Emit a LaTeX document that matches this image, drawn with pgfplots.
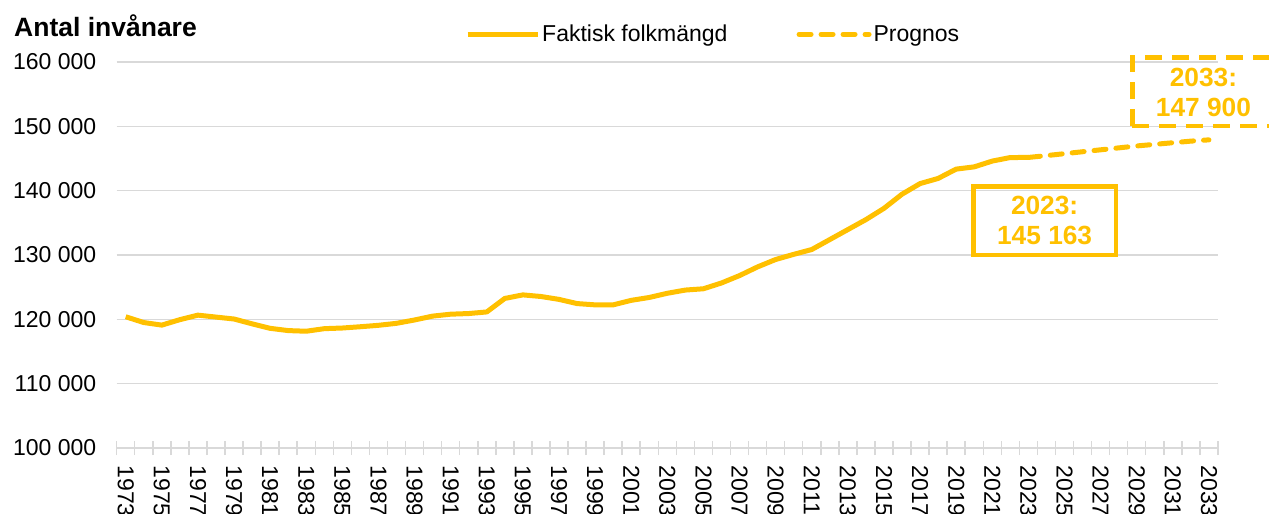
\documentclass[border=0pt]{standalone}
\usepackage{fontspec}
\setmainfont{Liberation Sans}
\usepackage{pgfplots}
\pgfplotsset{compat=1.18}
\definecolor{gold}{HTML}{FFC000}
\definecolor{gridgray}{HTML}{D9D9D9}

\begin{document}
\begin{tikzpicture}
\begin{axis}[
  at={(0pt,0pt)}, anchor=south west,
  scale only axis, width=1101.3pt, height=386pt,
  xmin=1972.5, xmax=2033.5, ymin=100000, ymax=160000,
  axis x line*=bottom, axis y line*=left,
  y axis line style={draw=none},
  x axis line style={draw=gridgray, line width=1.5pt, -},
  ytick={100000,110000,...,160000},
  yticklabels={100 000,110 000,120 000,130 000,140 000,150 000,160 000},
  xtick={1973,1975,...,2033},
  minor xtick={1972.5,1973.5,...,2033.5},
  major tick length=0pt, minor tick length=14pt, tick align=center,
  minor tick style={draw=gridgray, line width=1.5pt},
  ymajorgrids, grid style={draw=gridgray, line width=1.5pt},
  /pgf/number format/assume math mode=true,
  /pgf/number format/1000 sep={},
  scaled ticks=false,
  tick label style={font=\fontsize{23}{27}\selectfont, text=black},
  yticklabel style={xshift=-17pt},
  xticklabel style={rotate=-90, anchor=west, xshift=14pt},
  clip=false,
  legend columns=2,
  legend style={draw=none, fill=none, inner sep=0pt, at={(0.3163,1.0718)}, anchor=west,
    font=\fontsize{23}{27}\selectfont,
    /tikz/every even column/.append style={column sep=67pt}},
  legend image code/.code={\draw[#1] (0pt,0pt) -- (70pt,0pt);},
]
\addplot[gold, line width=5pt, line join=round] coordinates {
(1973,120400) (1974,119500) (1975,119100) (1976,119950) (1977,120650)
(1978,120350) (1979,120050) (1980,119300) (1981,118600) (1982,118250)
(1983,118150) (1984,118550) (1985,118650) (1986,118850) (1987,119070)
(1988,119380) (1989,119900) (1990,120500) (1991,120800) (1992,120900)
(1993,121150) (1994,123250) (1995,123800) (1996,123550) (1997,123100)
(1998,122450) (1999,122250) (2000,122250) (2001,122950) (2002,123400)
(2003,124050) (2004,124550) (2005,124750) (2006,125650) (2007,126800)
(2008,128150) (2009,129300) (2010,130100) (2011,130850) (2012,132400)
(2013,133950) (2014,135500) (2015,137250) (2016,139450) (2017,141100)
(2018,141900) (2019,143350) (2020,143700) (2021,144600) (2022,145150)
(2023,145163)
};
\addlegendentry{Faktisk folkmängd}
\addplot[gold, line width=5pt, line cap=round, dash pattern=on 12pt off 10pt] coordinates {
(2023,145163) (2024,145450) (2025,145750) (2026,146050) (2027,146350)
(2028,146650) (2029,146950) (2030,147200) (2031,147450) (2032,147700)
(2033,147900)
};
\addlegendentry{Prognos}
\node[draw=gold, line width=4.5pt, minimum width=142.5pt, minimum height=68.5pt,
  text=gold, font=\bfseries\fontsize{26.3}{30}\selectfont, align=center, inner sep=0pt]
  at (axis cs:2023.9,135360) {2023:\\145 163};
\node[draw=gold, line width=4.5pt, dash pattern=on 17pt off 10pt, minimum width=142.5pt, minimum height=68.5pt,
  text=gold, font=\bfseries\fontsize{26.3}{30}\selectfont, align=center, inner sep=0pt]
  at (axis cs:2032.7,155340) {2033:\\147 900};
\end{axis}
\node[anchor=base west, inner sep=0pt, font=\bfseries\fontsize{26.5}{30}\selectfont] at (-102.7pt,411pt) {Antal invånare};
\pgfresetboundingbox
\useasboundingbox (-116.7pt,-66pt) rectangle (1152.3pt,448pt);
\end{tikzpicture}
\end{document}
